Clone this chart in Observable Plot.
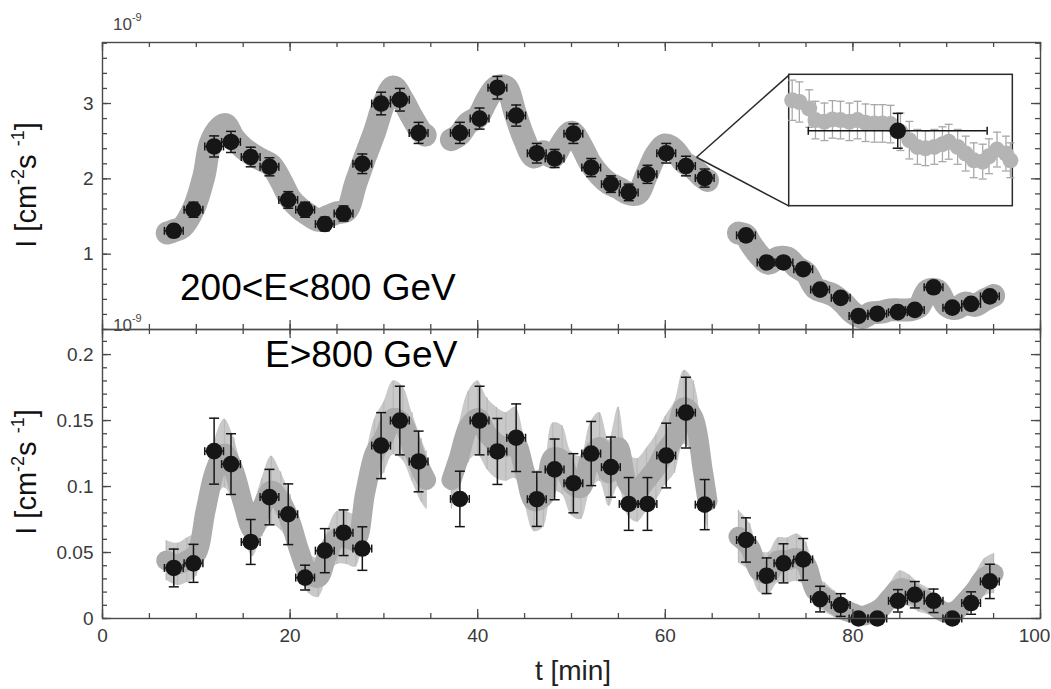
<!DOCTYPE html>
<html><head><meta charset="utf-8">
<script src="https://cdn.jsdelivr.net/npm/d3@7"></script>
<script src="https://cdn.jsdelivr.net/npm/@observablehq/plot@0.6"></script>
<style>
body{margin:0;background:#fff;}
#wrap{position:relative;width:1051px;height:689px;overflow:hidden;font-family:"Liberation Sans",Arial,Helvetica,sans-serif;}
#wrap svg{display:block;overflow:visible;}
.abs{position:absolute;}
</style></head><body><div id="wrap"></div>
<script>
// ---------------- DATA ----------------
// binned light-curve points (black), time in minutes
const tBlack = [7.6, 9.7, 11.9, 13.7, 15.8, 17.8, 19.8, 21.6, 23.7, 25.7, 27.7, 29.7, 31.7, 33.7,
  38.1, 40.2, 42.1, 44.1, 46.3, 48.2, 50.2, 52.1, 54.2, 56.1, 58.1, 60.1, 62.2, 64.2,
  68.6, 70.8, 72.6, 74.7, 76.5, 78.7, 80.6, 82.6, 84.8, 86.6, 88.6, 90.6, 92.6, 94.6];
const tHalfBin = 1.0;
// 200<E<800 GeV flux (x1e-9)
const topFlux = [1.31, 1.59, 2.43, 2.49, 2.29, 2.16, 1.72, 1.59, 1.40, 1.54, 2.20, 3.00, 3.05, 2.61,
  2.61, 2.80, 3.21, 2.84, 2.34, 2.27, 2.60, 2.15, 1.93, 1.82, 2.06, 2.34, 2.17, 2.01,
  1.25, 0.89, 0.89, 0.80, 0.53, 0.42, 0.18, 0.21, 0.23, 0.26, 0.56, 0.29, 0.34, 0.44];
const topErr = [0.08, 0.10, 0.14, 0.14, 0.13, 0.12, 0.11, 0.10, 0.09, 0.10, 0.13, 0.15, 0.15, 0.14,
  0.14, 0.14, 0.15, 0.14, 0.13, 0.12, 0.13, 0.12, 0.11, 0.11, 0.12, 0.13, 0.13, 0.12,
  0.07, 0.06, 0.06, 0.06, 0.05, 0.05, 0.04, 0.04, 0.04, 0.04, 0.05, 0.04, 0.04, 0.05];
// E>800 GeV flux (x1e-9)
const botFlux = [0.0383, 0.0418, 0.1268, 0.117, 0.058, 0.092, 0.079, 0.031, 0.0514, 0.065, 0.053, 0.131, 0.150, 0.119,
  0.0906, 0.150, 0.1266, 0.137, 0.0904, 0.113, 0.1025, 0.125, 0.1147, 0.0868, 0.0868, 0.1235, 0.156, 0.0863,
  0.0595, 0.0324, 0.0418, 0.0448, 0.0147, 0.0102, 0.0, 0.0, 0.0134, 0.018, 0.0134, 0.0, 0.0117, 0.0281];
const botErr = [0.0143, 0.0144, 0.025, 0.023, 0.017, 0.021, 0.023, 0.0094, 0.0167, 0.0173, 0.0165, 0.025, 0.026, 0.023,
  0.021, 0.026, 0.025, 0.0256, 0.0206, 0.023, 0.0224, 0.0243, 0.0228, 0.020, 0.020, 0.0245, 0.0268, 0.019,
  0.0168, 0.0135, 0.0148, 0.0158, 0.0097, 0.0086, 0.004, 0.004, 0.0085, 0.010, 0.0089, 0.004, 0.0085, 0.013];

// fine-resolution light curve (grey), 200<E<800 GeV
const grayTopT = [6.9, 7.6, 8.5, 9.7, 10.8, 11.5, 12.5, 13.1, 14, 15, 16, 17, 18, 19, 20, 21, 22, 23, 24, 25, 26, 27, 28, 29, 30, 31, 32, 33, 34, 34.4,
  37.2, 38, 39, 40, 41, 42, 43, 44, 45, 46, 47, 48, 49, 50, 51, 52, 53, 54, 55, 56, 57, 58, 59, 60, 61, 62, 63, 64, 64.5,
  67.8, 68.6, 69, 70, 71, 72, 73, 74, 75, 76, 77, 78, 79, 80, 81, 82, 83, 84, 85, 86, 87, 88, 89, 90, 91, 92, 93, 94, 95];
const grayTopV = [1.28, 1.31, 1.36, 1.60, 2.03, 2.47, 2.68, 2.72, 2.54, 2.41, 2.32, 2.25, 2.18, 1.98, 1.74, 1.61, 1.52, 1.45, 1.50, 1.55, 1.58, 1.94, 2.29, 2.62, 3.00, 3.22, 3.05, 2.82, 2.62, 2.58,
  2.52, 2.58, 2.74, 2.82, 3.05, 3.22, 3.22, 2.87, 2.52, 2.29, 2.36, 2.29, 2.48, 2.62, 2.45, 2.21, 2.05, 1.94, 1.88, 1.81, 1.80, 2.05, 2.32, 2.45, 2.38, 2.22, 2.14, 2.02, 1.98,
  1.28, 1.25, 1.16, 0.99, 0.88, 0.95, 0.95, 0.83, 0.75, 0.55, 0.50, 0.45, 0.35, 0.22, 0.16, 0.22, 0.23, 0.26, 0.26, 0.26, 0.30, 0.52, 0.52, 0.32, 0.28, 0.35, 0.32, 0.39, 0.45];
// fine-resolution light curve (grey), E>800 GeV
const grayBotT = [6.8, 8, 9, 10, 11, 12, 13, 14, 15, 16, 17, 18, 19, 20, 21, 22, 23, 24, 25, 26, 27, 28, 29, 30, 31, 32, 33, 34, 34.5,
  37.2, 38, 39, 40, 41, 42, 43, 44, 45, 46, 47, 48, 49, 50, 51, 52, 53, 54, 55, 56, 57, 58, 59, 60, 61, 62, 63, 64, 64.5,
  67.8, 69, 70, 71, 72, 73, 74, 75, 76, 77, 78, 79, 80, 81, 82, 83, 84, 85, 86, 87, 88, 89, 90, 91, 92, 93, 94, 95];
const grayBotV = [0.044, 0.041, 0.044, 0.049, 0.082, 0.112, 0.125, 0.112, 0.087, 0.067, 0.084, 0.097, 0.089, 0.074, 0.051, 0.034, 0.031, 0.049, 0.061, 0.061, 0.059, 0.095, 0.125, 0.137, 0.152, 0.148, 0.130, 0.112, 0.105,
  0.105, 0.122, 0.145, 0.152, 0.140, 0.133, 0.130, 0.133, 0.112, 0.089, 0.092, 0.122, 0.120, 0.102, 0.099, 0.122, 0.130, 0.110, 0.130, 0.102, 0.097, 0.105, 0.114, 0.127, 0.137, 0.160, 0.152, 0.112, 0.089,
  0.062, 0.054, 0.036, 0.034, 0.044, 0.044, 0.046, 0.041, 0.021, 0.016, 0.011, 0.007, 0.004, 0.002, 0.004, 0.008, 0.016, 0.023, 0.021, 0.016, 0.013, 0.008, 0.004, 0.006, 0.013, 0.021, 0.031, 0.034];
const grayBotErr = [0.015, 0.016, 0.017, 0.017, 0.020, 0.024, 0.026, 0.025, 0.022, 0.020, 0.022, 0.026, 0.022, 0.020, 0.018, 0.015, 0.015, 0.018, 0.020, 0.020, 0.020, 0.024, 0.026, 0.027, 0.028, 0.028, 0.026, 0.024, 0.022,
  0.022, 0.025, 0.027, 0.028, 0.027, 0.027, 0.026, 0.027, 0.025, 0.023, 0.023, 0.026, 0.026, 0.024, 0.024, 0.026, 0.026, 0.025, 0.030, 0.024, 0.024, 0.024, 0.025, 0.026, 0.027, 0.028, 0.028, 0.025, 0.022,
  0.020, 0.018, 0.016, 0.016, 0.017, 0.017, 0.018, 0.017, 0.012, 0.011, 0.010, 0.009, 0.008, 0.007, 0.008, 0.009, 0.011, 0.013, 0.012, 0.011, 0.010, 0.009, 0.008, 0.008, 0.010, 0.012, 0.014, 0.015];

// inset: zoom on the bin at t = 62.2 min
const insetT = [61.02, 61.10, 61.21, 61.28, 61.38, 61.47, 61.56, 61.66, 61.75, 61.84, 61.94, 62.03, 62.12, 62.23,
  62.33, 62.42, 62.51, 62.61, 62.70, 62.77, 62.87, 62.96, 63.05, 63.15, 63.22, 63.31, 63.41, 63.46];
const insetV = [2.398, 2.385, 2.336, 2.25, 2.237, 2.255, 2.25, 2.237, 2.25, 2.23, 2.225, 2.225, 2.22, 2.163,
  2.10, 2.05, 2.04, 2.05, 2.07, 2.088, 2.05, 2.00, 1.95, 1.94, 1.98, 2.03, 2.00, 1.95];
const insetErr = [0.15, 0.15, 0.14, 0.14, 0.14, 0.14, 0.14, 0.14, 0.14, 0.14, 0.14, 0.14, 0.14, 0.14,
  0.14, 0.13, 0.13, 0.13, 0.13, 0.13, 0.13, 0.13, 0.13, 0.13, 0.13, 0.13, 0.13, 0.13];
const insetBin = 26;                       // index of zoomed bin
const insetDomainT = [60.99, 63.49];
const insetDomainV = [1.61, 2.59];
const insetBox = {t0: 73.21, t1: 97.05, v0: 1.637, v1: 3.381};
const insetApex = {t: 63.33, v: 2.287};

// axes / ticks / labels
const xMajor = [0, 20, 40, 60, 80, 100];
const xMinor = d3.range(0, 101, 5);
const yTopMajor = [1, 2, 3];
const yTopMinor = d3.range(0, 3.81, 0.2);
const yBotMajor = [0, 0.05, 0.1, 0.15, 0.2];
const yBotMinor = d3.range(0, 0.2151, 0.01);
const topLabel = "200<E<800 GeV";
const botLabel = "E>800 GeV";
const xLabel = "t [min]";

// ---------------- BUILD ----------------
const FONT = '"Liberation Sans", Arial, Helvetica, sans-serif';
const W = 1051, ML = 102, MR = 11;
const PW = W - ML - MR;
const INK = "#161616", FRAME = "#4a4a4a";

const mkSeg = ts => { let s = 0; return ts.map((t, i) => (i > 0 && t - ts[i - 1] > 2 ? ++s : s)); };
const topRows = tBlack.map((t, i) => ({t, v: topFlux[i], e: topErr[i]}));
const botRows = tBlack.map((t, i) => ({t, v: botFlux[i], e: botErr[i]}));
const segTop = mkSeg(grayTopT), segBot = mkSeg(grayBotT);
const grayTop = grayTopT.map((t, i) => ({t, v: grayTopV[i], seg: segTop[i]}));
const grayBot = grayBotT.map((t, i) => ({t, v: grayBotV[i], e: grayBotErr[i], seg: segBot[i]}));

const capH = w => ({draw(ctx) { ctx.moveTo(-w / 2, 0); ctx.lineTo(w / 2, 0); }});
const capV = h => ({draw(ctx) { ctx.moveTo(0, -h / 2); ctx.lineTo(0, h / 2); }});

function errorBars(rows, color, sw, capW, half) {
  return [
    Plot.ruleY(rows, {y: "v", x1: d => d.t - half, x2: d => d.t + half, stroke: color, strokeWidth: sw}),
    Plot.ruleX(rows, {x: "t", y1: d => d.v - d.e, y2: d => d.v + d.e, stroke: color, strokeWidth: sw}),
    Plot.dot(rows, {x: "t", y: d => d.v + d.e, symbol: capH(capW), stroke: color, strokeWidth: sw, fill: "none"}),
    Plot.dot(rows, {x: "t", y: d => d.v - d.e, symbol: capH(capW), stroke: color, strokeWidth: sw, fill: "none"}),
    Plot.dot(rows, {x: d => d.t - half, y: "v", symbol: capV(8), stroke: color, strokeWidth: sw, fill: "none"}),
    Plot.dot(rows, {x: d => d.t + half, y: "v", symbol: capV(8), stroke: color, strokeWidth: sw, fill: "none"})
  ];
}

function tickMarks(H, yMaj, yMin) {
  const o = {stroke: FRAME, strokeWidth: 1.3};
  return [
    Plot.ruleX(xMajor, {...o, insetTop: H - 9}), Plot.ruleX(xMajor, {...o, insetBottom: H - 9}),
    Plot.ruleX(xMinor, {...o, insetTop: H - 5}), Plot.ruleX(xMinor, {...o, insetBottom: H - 5}),
    Plot.ruleY(yMaj, {...o, insetRight: PW - 9}), Plot.ruleY(yMaj, {...o, insetLeft: PW - 9}),
    Plot.ruleY(yMin, {...o, insetRight: PW - 5}), Plot.ruleY(yMin, {...o, insetLeft: PW - 5})
  ];
}

const style = {fontFamily: FONT, fontSize: "19px", color: "#3a3a3a", background: "transparent", overflow: "visible"};
const fmt = d => String(d);

const topH = 329, topMT = 42;
const topChart = Plot.plot({
  width: W, height: topH, marginTop: topMT, marginBottom: 0, marginLeft: ML, marginRight: MR,
  x: {domain: [0, 100], axis: null},
  y: {domain: [0, 3.81]},
  style,
  marks: [
    Plot.line(grayTop, {x: "t", y: "v", z: "seg", stroke: "#ababab", strokeWidth: 23,
      strokeLinecap: "round", strokeLinejoin: "round", curve: "catmull-rom"}),
    ...errorBars(topRows, INK, 1.5, 10, tHalfBin),
    Plot.dot(topRows, {x: "t", y: "v", r: 8.3, fill: INK}),
    Plot.link([insetApex], {x1: "t", y1: "v", x2: () => insetBox.t0, y2: () => insetBox.v1, stroke: "#2a2a2a", strokeWidth: 1.5}),
    Plot.link([insetApex], {x1: "t", y1: "v", x2: () => insetBox.t0, y2: () => insetBox.v0, stroke: "#2a2a2a", strokeWidth: 1.5}),
    Plot.rect([insetBox], {x1: "t0", x2: "t1", y1: "v0", y2: "v1", fill: "white", stroke: "#2a2a2a", strokeWidth: 1.5}),
    ...tickMarks(topH - topMT, yTopMajor, yTopMinor),
    Plot.frame({stroke: FRAME, strokeWidth: 1.4}),
    Plot.axisY({ticks: yTopMajor, tickSize: 0, tickPadding: 9, label: null, tickFormat: fmt})
  ]
});

const botH = 360, botMB = 71;
const botChart = Plot.plot({
  width: W, height: botH, marginTop: 0, marginBottom: botMB, marginLeft: ML, marginRight: MR,
  x: {domain: [0, 100]},
  y: {domain: [0, 0.219]},
  style,
  marks: [
    Plot.areaY(grayBot, {x: "t", y1: d => d.v - d.e, y2: d => d.v + d.e, z: "seg", fill: "#c9c9c9", curve: "catmull-rom"}),
    Plot.ruleX(grayBot, {x: "t", y1: d => d.v - d.e, y2: d => d.v + d.e, stroke: "#b9b9b9", strokeWidth: 1.2}),
    Plot.line(grayBot, {x: "t", y: "v", z: "seg", stroke: "#ababab", strokeWidth: 20,
      strokeLinecap: "round", strokeLinejoin: "round", curve: "catmull-rom"}),
    ...errorBars(botRows, INK, 1.5, 10, tHalfBin),
    Plot.dot(botRows, {x: "t", y: "v", r: 8.3, fill: INK}),
    ...tickMarks(botH - botMB, yBotMajor, yBotMinor),
    Plot.frame({stroke: FRAME, strokeWidth: 1.4}),
    Plot.axisY({ticks: yBotMajor, tickSize: 0, tickPadding: 9, label: null, tickFormat: fmt}),
    Plot.axisX({ticks: xMajor.slice(0, -1), tickSize: 0, tickPadding: 10, label: null, tickFormat: fmt}),
    Plot.axisX({ticks: xMajor.slice(-1), tickSize: 0, tickPadding: 10, label: null, tickFormat: fmt, dx: -6})
  ]
});

const wrap = document.getElementById("wrap");
topChart.classList.add("abs"); topChart.style.left = "0px"; topChart.style.top = "0px";
botChart.classList.add("abs"); botChart.style.left = "0px"; botChart.style.top = topH + "px";
wrap.appendChild(topChart);
wrap.appendChild(botChart);

// inset overlay, placed with the main plot's own scales
const sx = topChart.scale("x"), sy = topChart.scale("y");
const iL = sx.apply(insetBox.t0), iR = sx.apply(insetBox.t1);
const iT = sy.apply(insetBox.v1), iB = sy.apply(insetBox.v0);
const insetRows = insetT.map((t, i) => ({t, v: insetV[i], e: insetErr[i]}));
const binRow = [{t: tBlack[insetBin], v: topFlux[insetBin], e: topErr[insetBin]}];
const insetChart = Plot.plot({
  width: iR - iL, height: iB - iT, margin: 0,
  x: {domain: insetDomainT, axis: null},
  y: {domain: insetDomainV, axis: null},
  style: {...style, background: "transparent"},
  marks: [
    Plot.ruleX(insetRows, {x: "t", y1: d => d.v - d.e, y2: d => d.v + d.e, stroke: "#a8a8a8", strokeWidth: 1.3}),
    Plot.dot(insetRows, {x: "t", y: d => d.v + d.e, symbol: capH(8), stroke: "#a8a8a8", strokeWidth: 1.3, fill: "none"}),
    Plot.dot(insetRows, {x: "t", y: d => d.v - d.e, symbol: capH(8), stroke: "#a8a8a8", strokeWidth: 1.3, fill: "none"}),
    Plot.dot(insetRows, {x: "t", y: "v", r: 8, fill: "#b4b4b4"}),
    ...errorBars(binRow, INK, 1.5, 10, tHalfBin),
    Plot.dot(binRow, {x: "t", y: "v", r: 8.3, fill: INK})
  ]
});
insetChart.classList.add("abs");
insetChart.style.left = iL + "px"; insetChart.style.top = iT + "px";
wrap.appendChild(insetChart);

// ---------- text annotations ----------
function yTitle(svg, cx, cy) {
  const t = d3.select(svg).append("text")
    .attr("transform", `translate(${cx},${cy}) rotate(-90)`)
    .attr("text-anchor", "middle").attr("font-family", FONT).attr("font-size", 29).attr("fill", "#111");
  t.append("tspan").text("I [cm");
  t.append("tspan").attr("font-size", 18).attr("dy", -12).text("-2");
  t.append("tspan").attr("dy", 12).text("s ");
  t.append("tspan").attr("font-size", 18).attr("dy", -12).text("-1");
  t.append("tspan").attr("dy", 12).text("]");
}
function expo(svg, x, y) {
  const t = d3.select(svg).append("text").attr("x", x).attr("y", y).attr("text-anchor", "start")
    .attr("font-family", FONT).attr("font-size", 17).attr("fill", "#444");
  t.append("tspan").text("10");
  t.append("tspan").attr("font-size", 11).attr("dy", -9).text("-9");
}
function plain(svg, x, y, size, fill, anchor, txt) {
  d3.select(svg).append("text").attr("x", x).attr("y", y).attr("text-anchor", anchor)
    .attr("font-family", FONT).attr("font-size", size).attr("fill", fill).text(txt);
}
yTitle(topChart, 36, 185);
yTitle(botChart, 36, 472 - topH);
expo(topChart, 113, 30);
expo(topChart, 113, 331);
plain(topChart, 180, 300, 37, "#000", "start", topLabel);
plain(botChart, 265, 367 - topH, 37, "#000", "start", botLabel);
plain(botChart, 573, 680 - topH, 28, "#222", "middle", xLabel);
</script></body></html>
